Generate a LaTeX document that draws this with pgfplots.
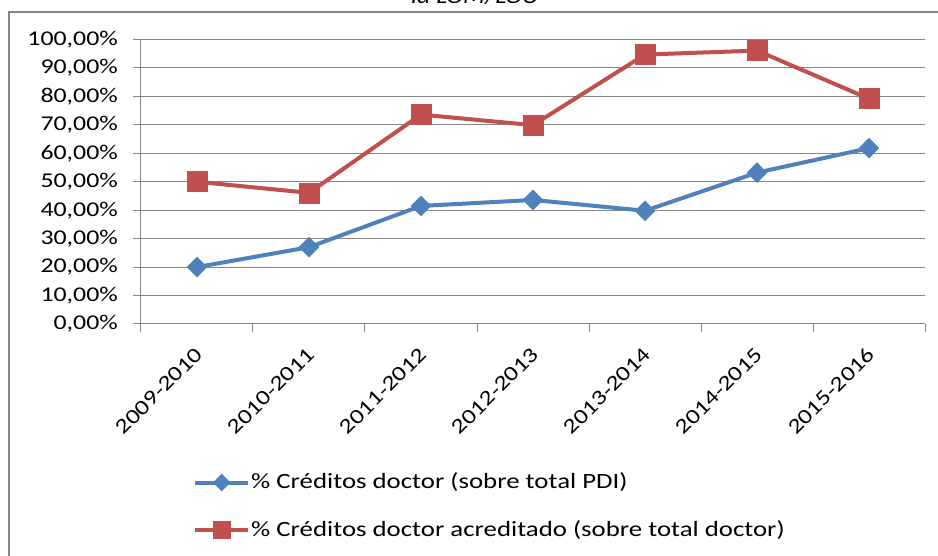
\documentclass[border=0pt]{standalone}
\usepackage{fontspec}
\setmainfont{Carlito}[FakeStretch=1.23]
\usepackage{pgfplots}
\pgfplotsset{compat=1.18}
\definecolor{xblue}{HTML}{4F81BD}
\definecolor{xred}{HTML}{C0504D}
\definecolor{xgray}{HTML}{868686}
\begin{document}
\fontsize{21pt}{25pt}\selectfont
\begin{tikzpicture}[x=1pt,y=1pt]
\useasboundingbox (0,0) rectangle (938,556);
\clip (0,0) rectangle (938,556);
\fill[white] (0,0) rectangle (938,556);
\draw[xgray, line width=2pt] (960,543.5) -- (9,543.5) -- (9,-20);
\node[font=\itshape, anchor=base, inner sep=0pt] at (475,552) {la LOM/LOU};
\begin{axis}[
  at={(141pt,232pt)}, anchor=south west, scale only axis,
  width=784pt, height=284.5pt,
  xmin=-0.5, xmax=6.5, ymin=0, ymax=100,
  axis lines*=left,
  axis line style={xgray, line width=1pt},
  tick align=outside,
  tick style={xgray, line width=1pt},
  major tick length=8pt,
  ytick={0,10,...,100},
  yticklabels={{0,00\%},{10,00\%},{20,00\%},{30,00\%},{40,00\%},{50,00\%},{60,00\%},{70,00\%},{80,00\%},{90,00\%},{100,00\%}},
  yticklabel style={anchor=east, inner sep=0pt, xshift=-15pt},
  ymajorgrids, grid style={xgray, line width=1pt},
  xtick={-0.5,0.5,...,6.5},
  xticklabels={},
  extra x ticks={0,1,2,3,4,5,6},
  extra x tick labels={2009-2010,2010-2011,2011-2012,2012-2013,2013-2014,2014-2015,2015-2016},
  extra x tick style={major tick length=0pt, tick style={draw=none},
    xticklabel style={yshift=-27pt, xshift=2pt, rotate=45, anchor=east, inner sep=0pt}},
  clip=false,
  legend style={draw=none, fill=none, at={(axis description cs:0.0663,-0.640)}, anchor=west,
    inner sep=0pt, row sep=26pt, nodes={inner sep=1pt, anchor=west},
    font=\fontsize{21.8pt}{25pt}\selectfont},
  legend cell align=left,
  legend image code/.code={
    \draw[#1, line width=4pt] (0pt,0pt) -- (53pt,0pt);
    \draw[#1, every mark/.append style={scale=0.85}] plot coordinates {(26.5pt,0pt)};
  },
]
\addplot[xblue, line width=4pt, mark=square*, mark options={rotate=45, mark size=7pt, line width=0.5pt, solid}]
  coordinates {(0,20.0)(1,27.0)(2,41.5)(3,43.6)(4,39.8)(5,53.2)(6,61.8)};
\addlegendentry{\% Créditos doctor (sobre total PDI)}
\addplot[xred, line width=4pt, mark=square*, mark options={mark size=10pt, line width=0.5pt, solid}]
  coordinates {(0,50.0)(1,46.1)(2,73.6)(3,69.9)(4,94.7)(5,96.1)(6,79.2)};
\addlegendentry{\% Créditos doctor acreditado (sobre total doctor)}
\end{axis}
\end{tikzpicture}
\end{document}
